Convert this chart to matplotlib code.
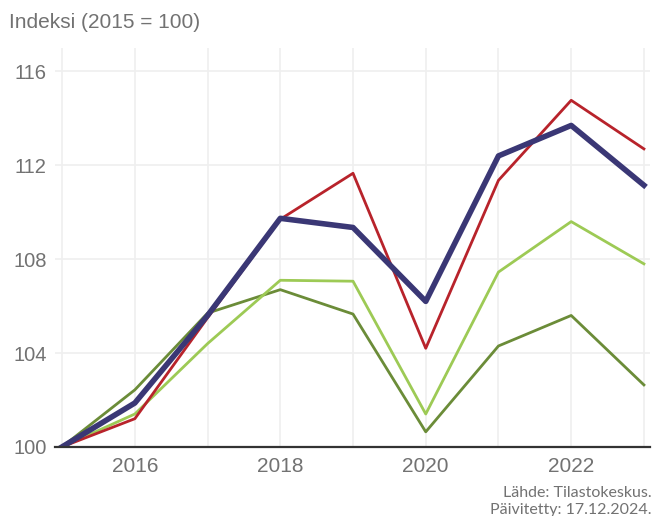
import matplotlib
matplotlib.use("Agg")
import matplotlib.pyplot as plt

years = [2015, 2016, 2017, 2018, 2019, 2020, 2021, 2022, 2023]
navy = [100, 101.87, 105.6, 109.74, 109.35, 106.2, 112.4, 113.7, 111.15]
red = [100, 101.2, 105.5, 109.7, 111.66, 104.2, 111.36, 114.77, 112.7]
light_green = [100, 101.4, 104.4, 107.1, 107.06, 101.4, 107.45, 109.6, 107.8]
olive = [100, 102.43, 105.7, 106.7, 105.66, 100.64, 104.3, 105.6, 102.64]

xticks = [2016, 2018, 2020, 2022]
yticks = [100, 104, 108, 112, 116]

plt.rcParams['font.family'] = ['Liberation Sans', 'DejaVu Sans']
grey = '#727272'

fig = plt.figure(figsize=(6.53, 5.16), dpi=100)
ax = fig.add_axes([0.084, 0.134, 0.911, 0.773])

ax.plot(years, olive, color='#6b8c38', lw=2.0)
ax.plot(years, light_green, color='#9dca55', lw=2.0)
ax.plot(years, red, color='#b8232b', lw=2.0)
ax.plot(years, navy, color='#3a3775', lw=4.0)

ax.set_xlim(2014.9, 2023.08)
ax.set_ylim(100, 117)
ax.set_xticks(years, minor=True)
ax.set_xticks(xticks)
ax.set_yticks(yticks)
ax.grid(True, which='both', axis='x', color='#efefef', lw=1.2)
ax.grid(True, which='major', axis='y', color='#efefef', lw=1.2)
ax.set_axisbelow(True)
ax.tick_params(which='both', length=0)
ax.tick_params(axis='x', labelsize=15, colors=grey, pad=7)
ax.tick_params(axis='y', labelsize=14.5, colors=grey, pad=6)
for s in ['top', 'right', 'left']:
    ax.spines[s].set_visible(False)
ax.spines['bottom'].set_color('#333333')
ax.spines['bottom'].set_linewidth(1.6)
ax.spines['bottom'].set_zorder(5)

fig.text(0.014, 0.957, 'Indeksi (2015 = 100)', fontsize=15, color=grey, va='center')
fig.text(0.998, 0.045, 'Lähde: Tilastokeskus.', fontsize=11.5, color=grey,
         ha='right', va='center', family=['Lato', 'DejaVu Sans'])
fig.text(0.998, 0.011, 'Päivitetty: 17.12.2024.', fontsize=11.5, color=grey,
         ha='right', va='center', family=['Lato', 'DejaVu Sans'])

fig.savefig('out.png', dpi=100)
